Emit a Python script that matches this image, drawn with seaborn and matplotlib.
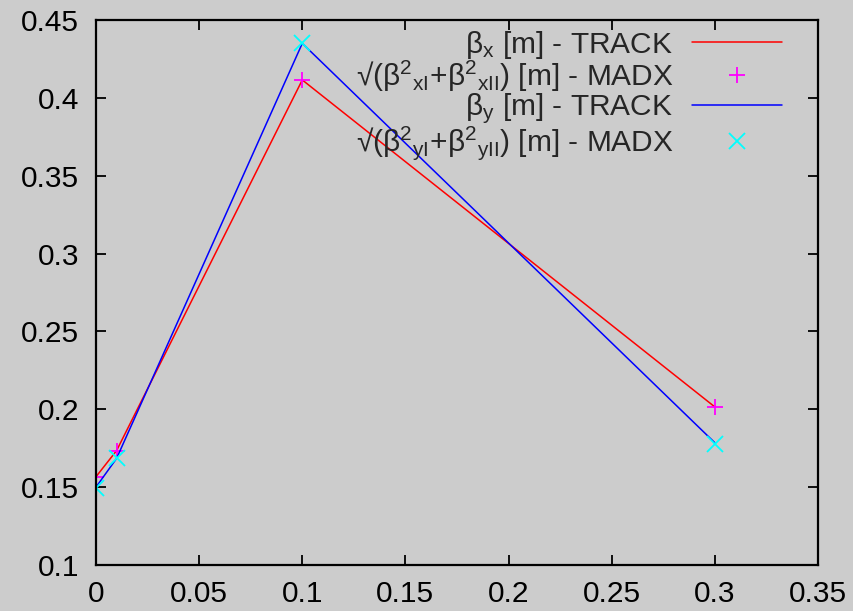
import numpy as np
import pandas as pd
import matplotlib
matplotlib.use("Agg")
import matplotlib.pyplot as plt
import seaborn as sns

# Data
s = [0.0, 0.01, 0.1, 0.3]
beta_x_track = [0.1567, 0.1735, 0.4115, 0.2015]
beta_x_madx = [0.1567, 0.1735, 0.4115, 0.2015]
beta_y_track = [0.1500, 0.1685, 0.4350, 0.1785]
beta_y_madx = [0.1495, 0.1685, 0.4350, 0.1780]
xticks = [0, 0.05, 0.1, 0.15, 0.2, 0.25, 0.3, 0.35]
yticks = [0.1, 0.15, 0.2, 0.25, 0.3, 0.35, 0.4, 0.45]
xticklabels = ["0", "0.05", "0.1", "0.15", "0.2", "0.25", "0.3", "0.35"]
yticklabels = ["0.1", "0.15", "0.2", "0.25", "0.3", "0.35", "0.4", "0.45"]

labels = [
    r"$\beta_x$ [m] - TRACK",
    r"√($\beta^2$$_{xI}$+$\beta^2$$_{xII}$) [m] - MADX",
    r"$\beta_y$ [m] - TRACK",
    r"√($\beta^2$$_{yI}$+$\beta^2$$_{yII}$) [m] - MADX",
]

sns.set_theme(style="ticks")
bg = "#cccccc"
plt.rcParams["font.family"] = ["Liberation Sans", "DejaVu Sans"]
plt.rcParams["mathtext.fontset"] = "custom"
plt.rcParams["mathtext.rm"] = "Liberation Sans"
plt.rcParams["mathtext.it"] = "Liberation Sans"
plt.rcParams["mathtext.default"] = "regular"

FS = 21.5

fig = plt.figure(figsize=(8.54, 6.11), dpi=100, facecolor=bg)
ax = fig.add_axes([96 / 854, 1 - 565 / 611, (818 - 96) / 854, (565 - 20) / 611])
ax.set_facecolor(bg)

df = pd.DataFrame({"s": s, "bxt": beta_x_track, "bxm": beta_x_madx,
                   "byt": beta_y_track, "bym": beta_y_madx})

sns.lineplot(data=df, x="s", y="bxt", ax=ax, color="#ff0000", lw=1.1,
             label=labels[0], sort=False)
ax.plot(df["s"], df["bxm"], linestyle="none", marker="+", color="#ff00ff",
        markersize=12, markeredgewidth=1.3, label=labels[1])
sns.lineplot(data=df, x="s", y="byt", ax=ax, color="#0000ff", lw=1.1,
             label=labels[2], sort=False)
ax.plot(df["s"], df["bym"], linestyle="none", marker="x", color="#00ffff",
        markersize=11, markeredgewidth=1.3, label=labels[3])

ax.set_xlim(0, 0.35)
ax.set_ylim(0.1, 0.45)
ax.set_xticks(xticks)
ax.set_yticks(yticks)
ax.set_xticklabels(xticklabels)
ax.set_yticklabels(yticklabels)
ax.set_xlabel("")
ax.set_ylabel("")
ax.tick_params(direction="in", length=7, width=1.3, colors="black",
               labelsize=FS, top=True, right=True)
ax.tick_params(axis="y", pad=12)
ax.tick_params(axis="x", pad=11)
for sp in ax.spines.values():
    sp.set_visible(True)
    sp.set_color("black")
    sp.set_linewidth(1.6)

leg = ax.legend(loc="upper right", bbox_to_anchor=(0.950, 0.984),
                frameon=False, markerfirst=False, fontsize=FS,
                handlelength=3.0, handletextpad=0.64, labelspacing=-0.07,
                borderpad=0, borderaxespad=0)

fig.savefig("out.png", dpi=100, facecolor=bg)
